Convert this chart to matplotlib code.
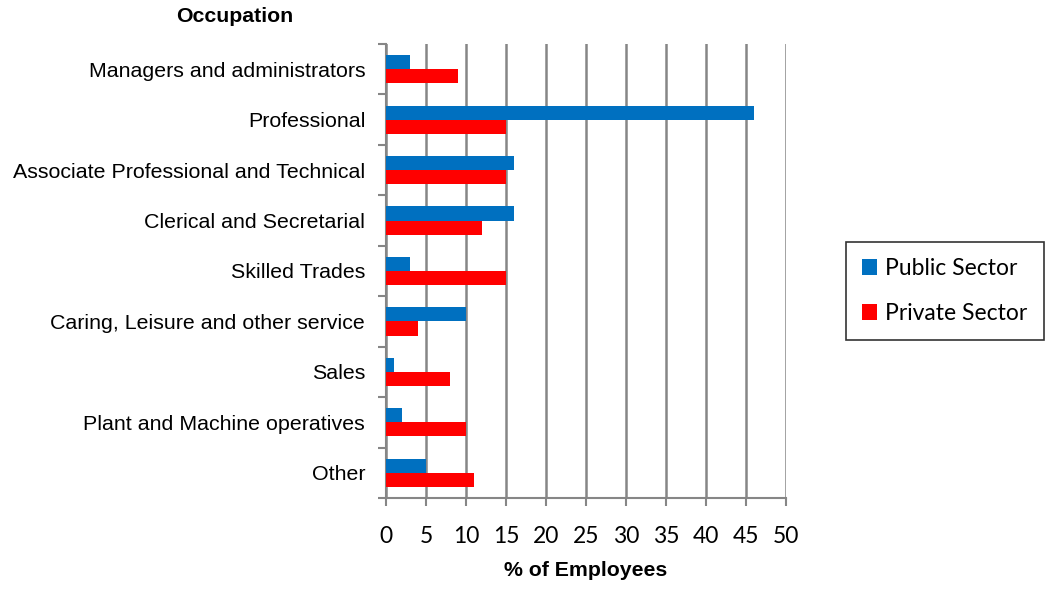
import numpy as np
import matplotlib.pyplot as plt

# Data
categories = ['Managers and administrators', 'Professional',
              'Associate Professional and Technical', 'Clerical and Secretarial',
              'Skilled Trades', 'Caring, Leisure and other service', 'Sales',
              'Plant and Machine operatives', 'Other']
public = [3, 46, 16, 16, 3, 10, 1, 2, 5]
private = [9, 15, 15, 12, 15, 4, 8, 10, 11]
xticks = list(range(0, 55, 5))

blue = '#0070C0'
red = '#FF0000'
grid_col = '#868686'

fig = plt.figure(figsize=(10.5, 5.89), dpi=100)
ax = fig.add_axes([0.3676, 0.1545, 0.381, 0.7708])

n = len(categories)
y = np.arange(n)
h = 0.28
ax.barh(y - h / 2, public, height=h, color=blue, label='Public Sector', zorder=3)
ax.barh(y + h / 2, private, height=h, color=red, label='Private Sector', zorder=3)

ax.set_ylim(n - 0.5, -0.5)
ax.set_xlim(0, 50)
ax.set_xticks(xticks)
ax.set_xticklabels([str(t) for t in xticks], fontsize=16.5, family='Lato')

# category labels centred in slots, ticks between slots
ax.set_yticks(np.arange(-0.5, n, 1))
ax.set_yticklabels([])
ax.set_yticks(y, minor=True)
ax.set_yticklabels(categories, minor=True, fontsize=15.4, family='Liberation Sans')
ax.tick_params(axis='y', which='minor', length=0, pad=15)
ax.tick_params(axis='y', which='major', length=6, width=1.5, color=grid_col)
ax.tick_params(axis='x', length=6, width=1.5, color=grid_col, pad=14)

ax.grid(axis='x', color=grid_col, linewidth=1.8, zorder=0)
for s in ['top', 'right']:
    ax.spines[s].set_visible(False)
for s in ['left', 'bottom']:
    ax.spines[s].set_color(grid_col)
    ax.spines[s].set_linewidth(1.5)

fig.text(235 / 1050, 1 - 17 / 589, 'Occupation', ha='center', va='center',
         fontsize=15.3, fontweight='bold', family='Liberation Sans')
fig.text(586 / 1050, 1 - 571 / 589, '% of Employees', ha='center', va='center',
         fontsize=15.3, fontweight='bold', family='Liberation Sans')

leg = fig.legend(loc='center', bbox_to_anchor=(945 / 1050, 1 - 291 / 589),
                 frameon=True, fancybox=False, edgecolor='black',
                 prop={'family': 'Lato', 'size': 16.5},
                 handlelength=0.65, handleheight=0.65, handletextpad=0.35,
                 labelspacing=1.05, borderpad=0.7, borderaxespad=0)
leg.get_frame().set_linewidth(1.2)

fig.savefig('out.png', dpi=100)
